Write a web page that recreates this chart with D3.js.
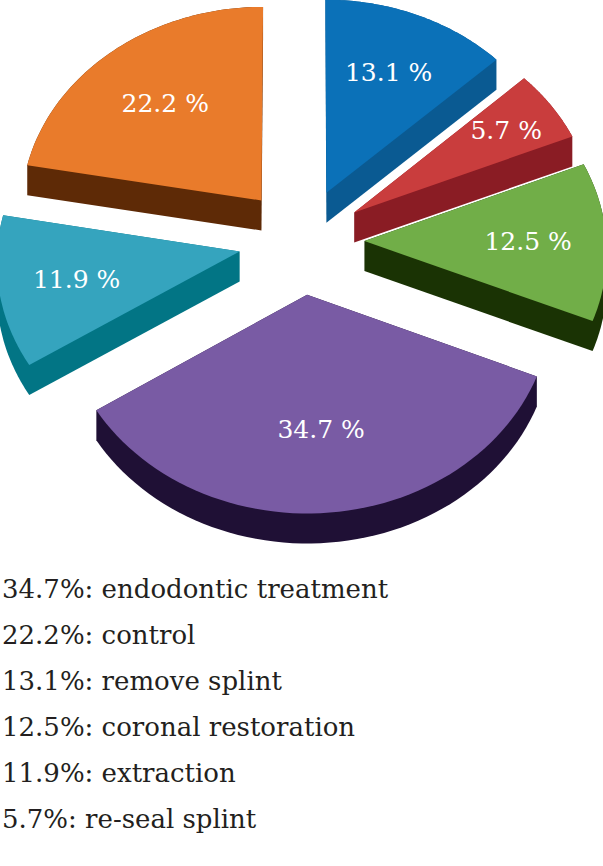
<!DOCTYPE html>
<html>
<head>
<meta charset="utf-8">
<script src="https://cdn.jsdelivr.net/npm/d3@7"></script>
<style>
  body { margin: 0; background: #fff; }
  svg { display: block; }
  text { font-family: "DejaVu Serif", "Liberation Serif", serif; }
</style>
</head>
<body>
<div id="chart"></div>
<script>
// slice data, clockwise from 12 o'clock
const categories = ["remove splint", "re-seal splint", "coronal restoration", "endodontic treatment", "extraction", "control"];
const values = [13.1, 5.7, 12.5, 34.7, 11.9, 22.2];
const topColors = ["#0b71b8", "#c93d3d", "#71ae48", "#795ba4", "#35a4be", "#e97b2b"];
const sideColors = ["#0a5a92", "#8a1c24", "#1a3304", "#1f1035", "#027585", "#5e2a06"];

const width = 603, height = 866;

// 3d pie projection settings
const cx = 301.5, cy = 241;
const rx = 242, ry = 205;   // screen radius of the disc
const persp = 0.042;        // far side a little smaller
const explode = 0.26;       // in radius units
const depth = 30;

function project(X, Y) {
  const f = 1 / (1 + persp * Y);
  return [cx + rx * X * f, cy - ry * Y * f];
}

const svg = d3.select("#chart")
  .append("svg")
  .attr("width", width)
  .attr("height", height);

const pie = d3.pie().sort(null).value(d => d.value);
const data = categories.map((c, i) => ({ name: c, value: values[i], i: i }));
const arcs = pie(data);

arcs.forEach(d => {
  const mid = (d.startAngle + d.endAngle) / 2;
  d.mid = mid;
  d.ax = explode * Math.sin(mid);
  d.ay = explode * Math.cos(mid);
  const pts = [project(d.ax, d.ay)];
  const n = 60;
  for (let k = 0; k <= n; k++) {
    const t = d.startAngle + (d.endAngle - d.startAngle) * k / n;
    pts.push(project(d.ax + Math.sin(t), d.ay + Math.cos(t)));
  }
  d.top = pts;
  d.bottom = pts.map(p => [p[0], p[1] + depth]);
});

// back slices first
const order = arcs.slice().sort((a, b) => b.ay - a.ay);

const line = d3.line();

const g = svg.append("g");
order.forEach(d => {
  const hull = d3.polygonHull(d.top.concat(d.bottom));
  g.append("path")
    .attr("d", line(hull) + "Z")
    .attr("fill", sideColors[d.data.i]);
  g.append("path")
    .attr("d", line(d.top) + "Z")
    .attr("fill", topColors[d.data.i]);
});

// value labels on the slices, narrow slices pushed further out
svg.append("g")
  .selectAll("text")
  .data(arcs)
  .join("text")
  .attr("transform", d => {
    const r = 0.6 + 0.06 / (d.endAngle - d.startAngle);
    const p = project(d.ax + r * Math.sin(d.mid), d.ay + r * Math.cos(d.mid));
    return `translate(${p[0]},${p[1]})`;
  })
  .attr("text-anchor", "middle")
  .attr("dy", "0.35em")
  .style("font-size", "25px")
  .attr("fill", "#ffffff")
  .text(d => d.data.value.toFixed(1) + " %");

// legend below, largest first
const legendData = data.slice().sort((a, b) => b.value - a.value);
svg.append("g")
  .selectAll("text")
  .data(legendData)
  .join("text")
  .attr("x", 2)
  .attr("y", (d, i) => 598 + i * 46)
  .style("font-size", "26px")
  .attr("fill", "#231f20")
  .text(d => d.value.toFixed(1) + "%: " + d.name);
</script>
</body>
</html>
